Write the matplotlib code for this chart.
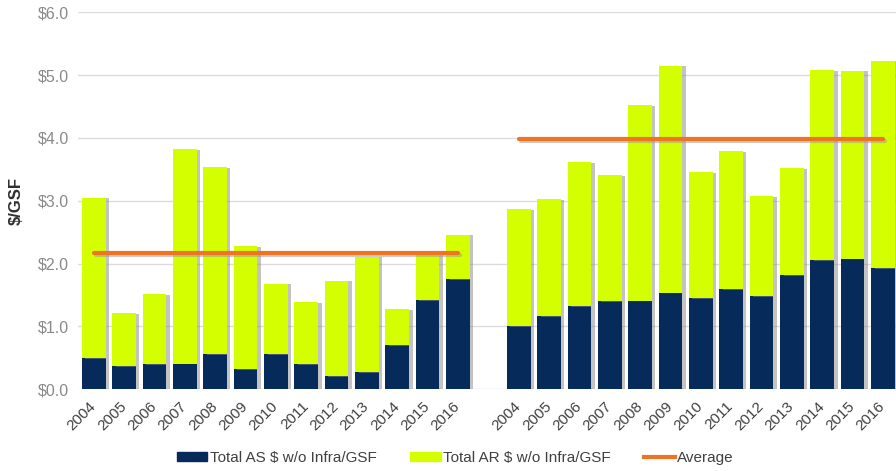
import numpy as np
import matplotlib
matplotlib.use("Agg")
import matplotlib.pyplot as plt
import matplotlib.patheffects as pe
import matplotlib.transforms as mtrans
from matplotlib.patches import Patch
from matplotlib.lines import Line2D

plt.rcParams['font.family'] = ['Liberation Sans', 'DejaVu Sans']

years = ['2004', '2005', '2006', '2007', '2008', '2009', '2010',
         '2011', '2012', '2013', '2014', '2015', '2016']

# left group
as_left = [0.49, 0.37, 0.40, 0.41, 0.56, 0.32, 0.56, 0.40, 0.21, 0.27, 0.70, 1.42, 1.75]
ar_left = [2.56, 0.84, 1.11, 3.41, 2.97, 1.96, 1.12, 0.99, 1.52, 1.84, 0.57, 0.73, 0.71]
avg_left = 2.17

# right group
as_right = [1.00, 1.16, 1.32, 1.40, 1.41, 1.54, 1.45, 1.59, 1.48, 1.82, 2.05, 2.08, 1.93]
ar_right = [1.87, 1.87, 2.29, 2.01, 3.11, 3.61, 2.01, 2.20, 1.59, 1.70, 3.03, 2.99, 3.30]
avg_right = 3.98

navy = '#062a5a'
lime = '#d4ff00'
orange = '#f07321'

fig = plt.figure(figsize=(8.96, 4.71), dpi=100)
ax = fig.add_axes([0.0867, 0.1735, 0.9133, 0.8005])

x_left = np.arange(len(years))
x_right = np.arange(len(years)) + len(years) + 1
w = 0.78
shadow = [pe.SimplePatchShadow(offset=(2.5, -0.5), shadow_rgbFace='#888888', alpha=0.5), pe.Normal()]

for xs, a, r in [(x_left, as_left, ar_left), (x_right, as_right, ar_right)]:
    b1 = ax.bar(xs, a, width=w, color=navy, zorder=3)
    b2 = ax.bar(xs, r, width=w, bottom=a, color=lime, zorder=3)
    for p in list(b1) + list(b2):
        p.set_path_effects(shadow)

line_fx = [pe.SimpleLineShadow(offset=(1.5, -1.5), shadow_color='#999999', alpha=0.5), pe.Normal()]
ax.plot([x_left[0], x_left[-1]], [avg_left, avg_left], color=orange, lw=3, zorder=4,
        solid_capstyle='round', path_effects=line_fx)
ax.plot([x_right[0], x_right[-1]], [avg_right, avg_right], color=orange, lw=3, zorder=4,
        solid_capstyle='round', path_effects=line_fx)

ax.set_ylim(0, 6)
ax.set_xlim(-0.53, 26.43)
ax.set_yticks(np.arange(0, 7, 1))
ax.set_yticklabels(['\\$%.1f' % v for v in np.arange(0, 7, 1)], fontsize=11.5, color='#8a8a8a')
ax.set_xticks(np.concatenate([x_left, x_right]))
ax.set_xticklabels(years + years, rotation=45, ha='right', rotation_mode='anchor',
                   fontsize=11, color='#404040')
ax.tick_params(axis='y', length=0, pad=6)
ax.tick_params(axis='x', length=0, pad=4)
shift = mtrans.ScaledTranslation(-0.05, -0.04, fig.dpi_scale_trans)
for lab in ax.get_xticklabels():
    lab.set_transform(lab.get_transform() + shift)
ax.grid(axis='y', color='#dcdcdc', lw=1, zorder=0)
for s in ax.spines.values():
    s.set_visible(False)

ax.set_ylabel('\\$/GSF', fontsize=12, fontweight='bold', color='#303030', labelpad=10)

handles = [Patch(color=navy), Patch(color=lime),
           Line2D([0], [0], color=orange, lw=3)]
labels = ['Total AS \\$ w/o Infra/GSF', 'Total AR \\$ w/o Infra/GSF', 'Average']
fig.legend(handles, labels, loc='center', bbox_to_anchor=(0.508, 0.028), ncol=3,
           frameon=False, fontsize=11, handlelength=2.0, handleheight=0.5,
           handletextpad=0.15, columnspacing=2.2, labelcolor='#404040')

fig.savefig('out.png', dpi=100)
